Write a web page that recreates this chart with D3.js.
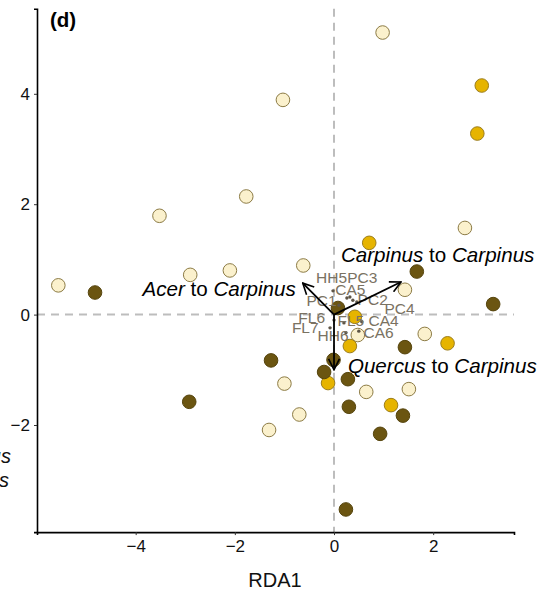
<!DOCTYPE html>
<html>
<head>
<meta charset="utf-8">
<script src="https://cdn.jsdelivr.net/npm/d3@7"></script>
<style>
  html, body { margin: 0; padding: 0; background: #fff; }
  svg { display: block; font-family: "Liberation Sans", Arial, sans-serif; }
</style>
</head>
<body>
<svg id="chart" width="548" height="595"></svg>
<script>
// RDA ordination: site scores by group, species-transition arrows, plot labels

// Site scores, group "light"
const lightX = [0.98, -1.03, -1.77, -3.52, 2.64, -0.62, -2.10, -2.90, -5.56, 1.43, 1.83, 0.48, -1.00, 0.65, 1.51, -0.70, -1.31];
const lightY = [5.11, 3.89, 2.14, 1.79, 1.57, 0.89, 0.80, 0.72, 0.53, 0.45, -0.35, -0.37, -1.25, -1.40, -1.35, -1.81, -2.09];
// Site scores, group "gold"
const goldX = [2.98, 2.89, 0.71, 0.42, 0.32, 2.29, -0.12, 1.15];
const goldY = [4.15, 3.28, 1.30, -0.04, -0.57, -0.52, -1.24, -1.64];
// Site scores, group "dark"
const darkX = [1.67, -4.82, 3.21, 0.08, 1.43, -1.27, -0.01, -0.20, 0.28, -2.92, 0.30, 1.39, 0.93, 0.24];
const darkY = [0.78, 0.40, 0.19, 0.12, -0.59, -0.83, -0.82, -1.04, -1.17, -1.58, -1.67, -1.83, -2.16, -3.53];

// Plot (site) labels with their scores and label anchors
const plotNames = ["HH5", "PC3", "CA5", "PC1", "PC2", "PC4", "FL6", "FL5", "CA4", "FL7", "HH6", "CA6"];
const plotX = [-0.02, 0.32, 0.26, 0.10, 0.38, 0.46, 0.00, 0.20, 0.56, -0.08, 0.24, 0.50];
const plotY = [0.43, 0.32, 0.30, 0.17, 0.26, 0.23, -0.10, -0.15, -0.13, -0.24, -0.33, -0.30];
const plotLabelX = [-0.05, 0.57, 0.33, -0.25, 0.78, 1.32, -0.45, 0.34, 1.00, -0.58, -0.02, 0.90];
const plotLabelY = [0.57, 0.57, 0.36, 0.16, 0.17, 0.01, -0.15, -0.21, -0.21, -0.33, -0.48, -0.42];

// Transition vectors
const arrowFrom = ["Acer", "Carpinus", "Quercus"];
const arrowTo = ["Carpinus", "Carpinus", "Carpinus"];
const arrowX = [-0.63, 1.35, 0.00];
const arrowY = [0.57, 0.59, -1.00];
const arrowLabelX = [-0.77, 0.14, 0.28];
const arrowLabelY = [0.34, 0.95, -1.06];
const arrowLabelAnchor = ["end", "start", "start"];

// Axis ticks
const xTicks = [-4, -2, 0, 2];
const yTicks = [-2, 0, 2, 4];
const xDomain = [-5.99, 3.63];
const yDomain = [-3.94, 5.54];

const svg = d3.select("#chart");
const W = 548, H = 595;

const y0 = 314.6, yUnit = 55.2;
const x = d3.scaleLinear().domain(xDomain).range([37, 514]);
const y = d3.scaleLinear().domain(yDomain).range([y0 - yDomain[0] * yUnit, y0 - yDomain[1] * yUnit]);

// Zero reference lines
const g = svg.append("g");
g.append("line")
  .attr("x1", x(xDomain[0])).attr("x2", x(xDomain[1]))
  .attr("y1", y(0)).attr("y2", y(0))
  .attr("stroke", "#bdbdbd").attr("stroke-width", 2).attr("stroke-dasharray", "8,6");
g.append("line")
  .attr("x1", x(0)).attr("x2", x(0))
  .attr("y1", y(yDomain[1])).attr("y2", y(yDomain[0]))
  .attr("stroke", "#bdbdbd").attr("stroke-width", 2).attr("stroke-dasharray", "8,6");

// Axes
const minus = d => d < 0 ? "\u2212" + Math.abs(d) : d;
const xAxis = svg.append("g")
  .attr("transform", `translate(0,${y(yDomain[0])})`)
  .call(d3.axisBottom(x).tickValues(xTicks).tickSize(3).tickPadding(5).tickFormat(minus));
const yAxis = svg.append("g")
  .attr("transform", `translate(${x(xDomain[0])},0)`)
  .call(d3.axisLeft(y).tickValues(yTicks).tickSize(3).tickPadding(4).tickFormat(minus));
[xAxis, yAxis].forEach(a => {
  a.select(".domain").attr("stroke", "#000").attr("stroke-width", 1.6);
  a.selectAll(".tick line").attr("stroke", "#333").attr("stroke-width", 1);
  a.selectAll(".tick text").attr("fill", "#111").style("font-size", "17px")
    .style("font-family", "'Liberation Sans', Arial, sans-serif");
});

// Site points
function drawPoints(xs, ys, fill, stroke) {
  svg.append("g").selectAll("circle")
    .data(xs.map((v, i) => [v, ys[i]]))
    .join("circle")
    .attr("cx", d => x(d[0])).attr("cy", d => y(d[1]))
    .attr("r", 6.8)
    .attr("fill", fill).attr("stroke", stroke).attr("stroke-width", 1);
}
drawPoints(lightX, lightY, "#fbf1cd", "#8c7b45");
drawPoints(goldX, goldY, "#e6b400", "#9b7d1c");
drawPoints(darkX, darkY, "#6b5511", "#55440d");

// Plot scores and labels
const plots = plotNames.map((n, i) => ({ n, x: plotX[i], y: plotY[i], lx: plotLabelX[i], ly: plotLabelY[i] }));
svg.append("g").selectAll("circle").data(plots).join("circle")
  .attr("cx", d => x(d.x)).attr("cy", d => y(d.y)).attr("r", 1.7).attr("fill", "#5e5546");
svg.append("g").selectAll("text").data(plots).join("text")
  .attr("x", d => x(d.lx)).attr("y", d => y(d.ly))
  .attr("text-anchor", "middle")
  .attr("fill", "#7a7262").style("font-size", "15.5px")
  .text(d => d.n);

// Arrowhead (open chevron)
svg.append("defs").append("marker")
  .attr("id", "head").attr("viewBox", "0 0 12 12")
  .attr("refX", 11).attr("refY", 6)
  .attr("markerWidth", 13).attr("markerHeight", 13)
  .attr("markerUnits", "userSpaceOnUse")
  .attr("orient", "auto")
  .append("path").attr("d", "M1,1 L11,6 L1,11")
  .attr("fill", "none").attr("stroke", "#000").attr("stroke-width", 1.5);

svg.append("g").selectAll("line").data(arrowX.map((v, i) => [v, arrowY[i]])).join("line")
  .attr("x1", x(0)).attr("y1", y(0))
  .attr("x2", d => x(d[0])).attr("y2", d => y(d[1]))
  .attr("stroke", "#000").attr("stroke-width", 1.8)
  .attr("marker-end", "url(#head)");

// Arrow labels: italic genus names
const alab = svg.append("g").selectAll("text")
  .data(arrowFrom.map((f, i) => ({ f, t: arrowTo[i], x: arrowLabelX[i], y: arrowLabelY[i], a: arrowLabelAnchor[i] })))
  .join("text")
  .attr("x", d => x(d.x)).attr("y", d => y(d.y))
  .attr("text-anchor", d => d.a)
  .attr("fill", "#000").style("font-size", "20.6px");
alab.append("tspan").style("font-style", "italic").text(d => d.f);
alab.append("tspan").text(" to ");
alab.append("tspan").style("font-style", "italic").text(d => d.t);

// Panel tag
svg.append("text").attr("x", 50).attr("y", 27)
  .style("font-size", "20.5px").style("font-weight", "bold").attr("fill", "#000")
  .text("(d)");

// Axis title
svg.append("text").attr("x", 275).attr("y", 587)
  .attr("text-anchor", "middle").style("font-size", "20px").attr("fill", "#111")
  .text("RDA1");

// Legend text running off the left edge
const legendWords = ["Quercus", "Carpinus"];
svg.append("g").selectAll("text").data(legendWords).join("text")
  .attr("x", (d, i) => i === 0 ? 11 : 9)
  .attr("y", (d, i) => 463 + i * 24)
  .attr("text-anchor", "end")
  .style("font-size", "20px").style("font-style", "italic").attr("fill", "#111")
  .text(d => d);
</script>
</body>
</html>
